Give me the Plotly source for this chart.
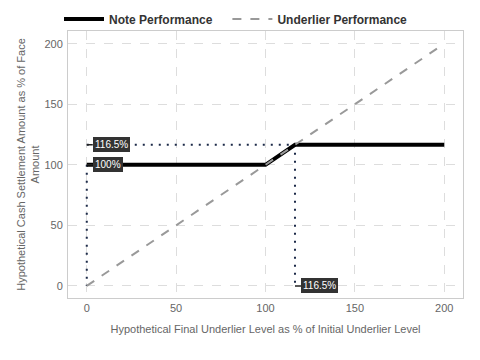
import plotly.graph_objects as go

# Data
note_x = [0, 100, 116.5, 200]
note_y = [100, 100, 116.5, 116.5]
under_x = [0, 200]
under_y = [0, 200]
ref_h_x = [0, 116.5]
ref_h_y = [116.5, 116.5]
ref_v_x = [116.5, 116.5]
ref_v_y = [116.5, 0]
ref_v0_x = [0, 0]
ref_v0_y = [100, 0]
label_x = [0, 0, 116.5]
label_y = [116.5, 100, 0]
label_text = ["116.5%", "100%", "116.5%"]
tick_vals = [0, 50, 100, 150, 200]

fig = go.Figure()
dot_col = "#1c2a48"
for xs, ys in [(ref_h_x, ref_h_y), (ref_v_x, ref_v_y), (ref_v0_x, ref_v0_y)]:
    fig.add_trace(go.Scatter(x=xs, y=ys, mode="lines", showlegend=False,
                             line=dict(color=dot_col, width=2, dash="2px,6px"), hoverinfo="skip"))

fig.add_trace(go.Scatter(x=note_x, y=note_y, mode="lines",
                         name="<b>Note Performance</b>&nbsp;&nbsp;&nbsp;",
                         line=dict(color="black", width=4)))
fig.add_trace(go.Scatter(x=under_x, y=under_y, mode="lines", name="<b>Underlier Performance</b>",
                         line=dict(color="#999999", width=2, dash="dash")))

for x, y, t in zip(label_x, label_y, label_text):
    fig.add_annotation(x=x, y=y, text=t, showarrow=True, arrowhead=0, arrowwidth=1.5,
                       arrowcolor="#222222", ax=6, ay=0, xanchor="left", yanchor="middle",
                       bgcolor="#333333", bordercolor="#333333", borderpad=1,
                       font=dict(color="white", size=10, family="Arial, Liberation Sans"))

axis_common = dict(showgrid=True, gridcolor="#dddddd", griddash="dash", gridwidth=1,
                   zeroline=False, showline=True, linecolor="#cccccc", mirror=True,
                   tickfont=dict(size=11, color="#666666"), ticks="", tickvals=tick_vals)

fig.update_xaxes(range=[-10.5, 210.5],
                 title=dict(text="Hypothetical Final Underlier Level as % of Initial Underlier Level",
                            font=dict(size=11, color="#666666"), standoff=12), **axis_common)
fig.update_yaxes(range=[-10, 210.5], ticklabelstandoff=2,
                 title=dict(text="Hypothetical Cash Settlement Amount as % of Face<br>Amount",
                            font=dict(size=11, color="#666666"), standoff=2), **axis_common)

# page has an 8px body margin, so figure coordinates are page coordinates minus 8
fig.update_layout(
    width=480, height=360,
    margin=dict(l=60, r=25, t=23, b=70, autoexpand=False),
    plot_bgcolor="white", paper_bgcolor="white",
    font=dict(family="Arial, Liberation Sans, sans-serif"),
    legend=dict(orientation="h", x=51 / 480, xref="container", y=(360 - 11) / 360, yref="container",
                xanchor="left", yanchor="middle",
                font=dict(size=12, color="#333333", family="Arial, Liberation Sans"),
                itemwidth=40, bgcolor="rgba(0,0,0,0)"),
    showlegend=True,
)
fig.write_html("out.html")
